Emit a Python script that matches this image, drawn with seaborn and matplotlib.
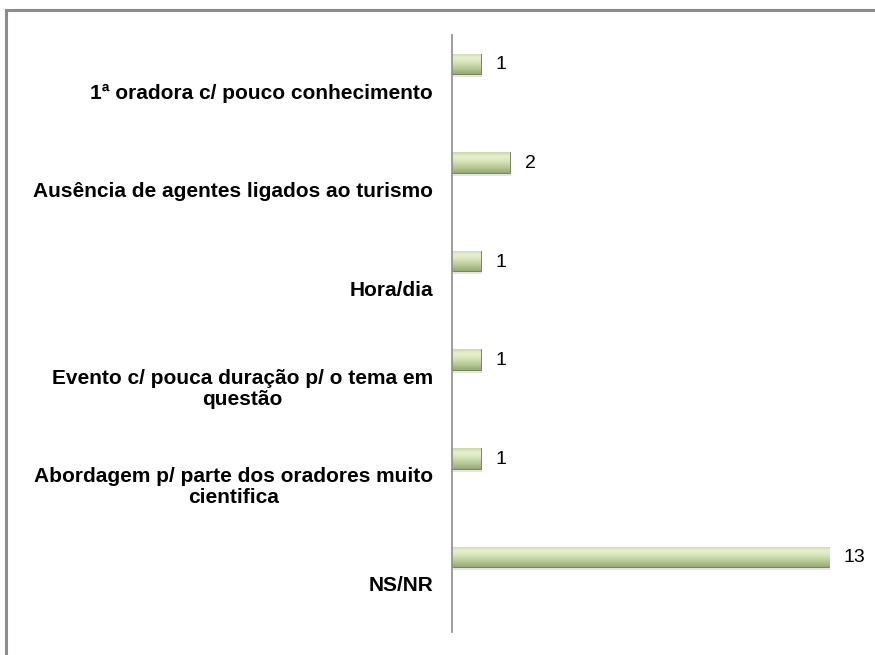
import matplotlib
matplotlib.use("Agg")
import matplotlib.pyplot as plt
import seaborn as sns
import pandas as pd
import numpy as np
from matplotlib.patches import Rectangle
from matplotlib.colors import LinearSegmentedColormap
from matplotlib.transforms import blended_transform_factory

categories = [
    "1ª oradora c/ pouco conhecimento",
    "Ausência de agentes ligados ao turismo",
    "Hora/dia",
    "Evento c/ pouca duração p/ o tema em\nquestão",
    "Abordagem p/ parte dos oradores muito\ncientifica",
    "NS/NR",
]
counts = [1, 2, 1, 1, 1, 13]

sns.set_style("white")
plt.rcParams["font.family"] = ["Liberation Sans", "DejaVu Sans"]

W, H = 875, 655
fig = plt.figure(figsize=(W / 100, H / 100), dpi=100)

# axes placed in pixel coords: value axis line at x=452, spans y 35..632
unit_px = 98.6
top_px, bot_px = 35, 632
left_px, right_px = 452, 858
ax = fig.add_axes([left_px / W, 1 - bot_px / H, (right_px - left_px) / W, (bot_px - top_px) / H])

pos = np.arange(len(categories))
bar_off = 0.285
df = pd.DataFrame({"pos": pos - bar_off, "count": counts})

sns.barplot(data=df, x="count", y="pos", orient="h", native_scale=True,
            width=0.21, color="#c1d29e", edgecolor="#75875a", linewidth=0.7,
            saturation=1, ax=ax)

# soft shadow + vertical gradient fill, clipped to each bar
grad = LinearSegmentedColormap.from_list(
    "bevel", ["#cad8aa", "#e8f0cf", "#dce7bf", "#c6d6a3", "#afc18d", "#95a976"])
g = np.linspace(0, 1, 64).reshape(-1, 1)
for patch in list(ax.patches):
    x0, y0 = patch.get_x(), patch.get_y()
    w, h = patch.get_width(), patch.get_height()
    ax.add_patch(Rectangle((x0 + 0.04, y0 + 0.03), w, h, color="#000000", alpha=0.10,
                           linewidth=0, zorder=patch.get_zorder() - 0.5))
    im = ax.imshow(g, cmap=grad, aspect="auto", extent=(x0, x0 + w, y0 + h, y0),
                   zorder=patch.get_zorder() + 0.1, interpolation="bicubic")
    im.set_clip_path(patch)

for p, c in zip(df["pos"], counts):
    ax.text(c + 0.5, p + 0.01, str(c), va="center", ha="left", fontsize=14, color="#000000")

ax.set_xlim(0, (right_px - left_px) / 29.0)
ax.set_ylim((bot_px - 92) / unit_px, -(92 - top_px) / unit_px)
ax.set_yticks([])
ax.set_xticks([])
ax.set_xlabel("")
ax.set_ylabel("")

# category labels: block right edge near x=433, lines centred within the block
trans = blended_transform_factory(ax.transAxes, ax.transData)
lab_x = -(452 - 433) / (right_px - left_px)
for p, cat in zip(pos, categories):
    ax.text(lab_x, p + 0.01, cat, transform=trans, ha="right", va="center",
            multialignment="center", fontsize=15, fontweight="bold",
            color="#000000", linespacing=1.12)

for s in ["top", "right", "bottom"]:
    ax.spines[s].set_visible(False)
ax.spines["left"].set_color("#8c8c8c")
ax.spines["left"].set_linewidth(1.2)
ax.set_zorder(1)

# outer frame (right/bottom edges fall off the picture)
fig.patches.append(Rectangle((6 / W, -0.05), 1.1, 1 - 10 / H + 0.05, transform=fig.transFigure,
                             fill=False, edgecolor="#8c8c8c", linewidth=2.2))

fig.savefig("out.png", dpi=100)
